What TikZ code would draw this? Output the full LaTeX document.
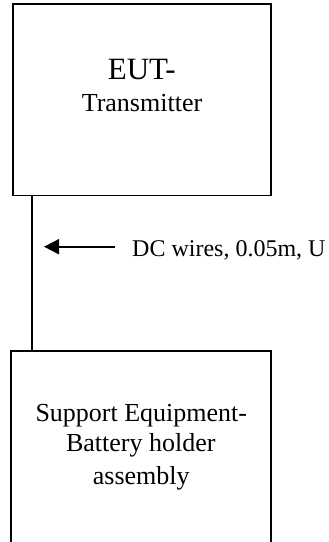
\documentclass[tikz,border=0pt]{standalone}
\usepackage{fontspec}
\setmainfont{Liberation Serif}
\usetikzlibrary{arrows.meta}
\begin{document}
\begin{tikzpicture}[x=1pt,y=-1pt,
  boxstyle/.style={draw=black,line width=1.8pt,rectangle,inner sep=0pt},
  wire/.style={draw=black,line width=1.8pt},
  lbl/.style={inner sep=0pt,anchor=base,font=\fontsize{26}{30}\selectfont}]
\useasboundingbox (0,0) rectangle (329,542);
\clip (0,0) rectangle (329,542);
\node[boxstyle,minimum width=258pt,minimum height=191.5pt] (top) at (142,99.75) {};
\node[boxstyle,minimum width=260pt,minimum height=215pt] (bot) at (141,458.5) {};
\node[lbl,font=\fontsize{31}{36}\selectfont] (t1) at (141.7,79.3) {EUT-};
\node[lbl] (t2) at (142,111.7) {Transmitter};
\node[lbl] (b1) at (141.3,421.7) {Support Equipment-};
\node[lbl] (b2) at (140.8,451.7) {Battery holder};
\node[lbl] (b3) at (141.3,484) {assembly};
\coordinate (wx) at (32,0);
\draw[wire] (top.south -| wx) -- (bot.north -| wx);
\node[inner sep=0pt,anchor=base west,font=\fontsize{24}{28}\selectfont] (dc) at (132,256.7) {DC wires, 0.05m, U};
\coordinate (as) at (115,246.7);
\coordinate (ae) at (44,246.7);
\draw[wire,-{Triangle[length=15pt,width=15pt]}] (as) -- (ae);
\end{tikzpicture}
\end{document}
